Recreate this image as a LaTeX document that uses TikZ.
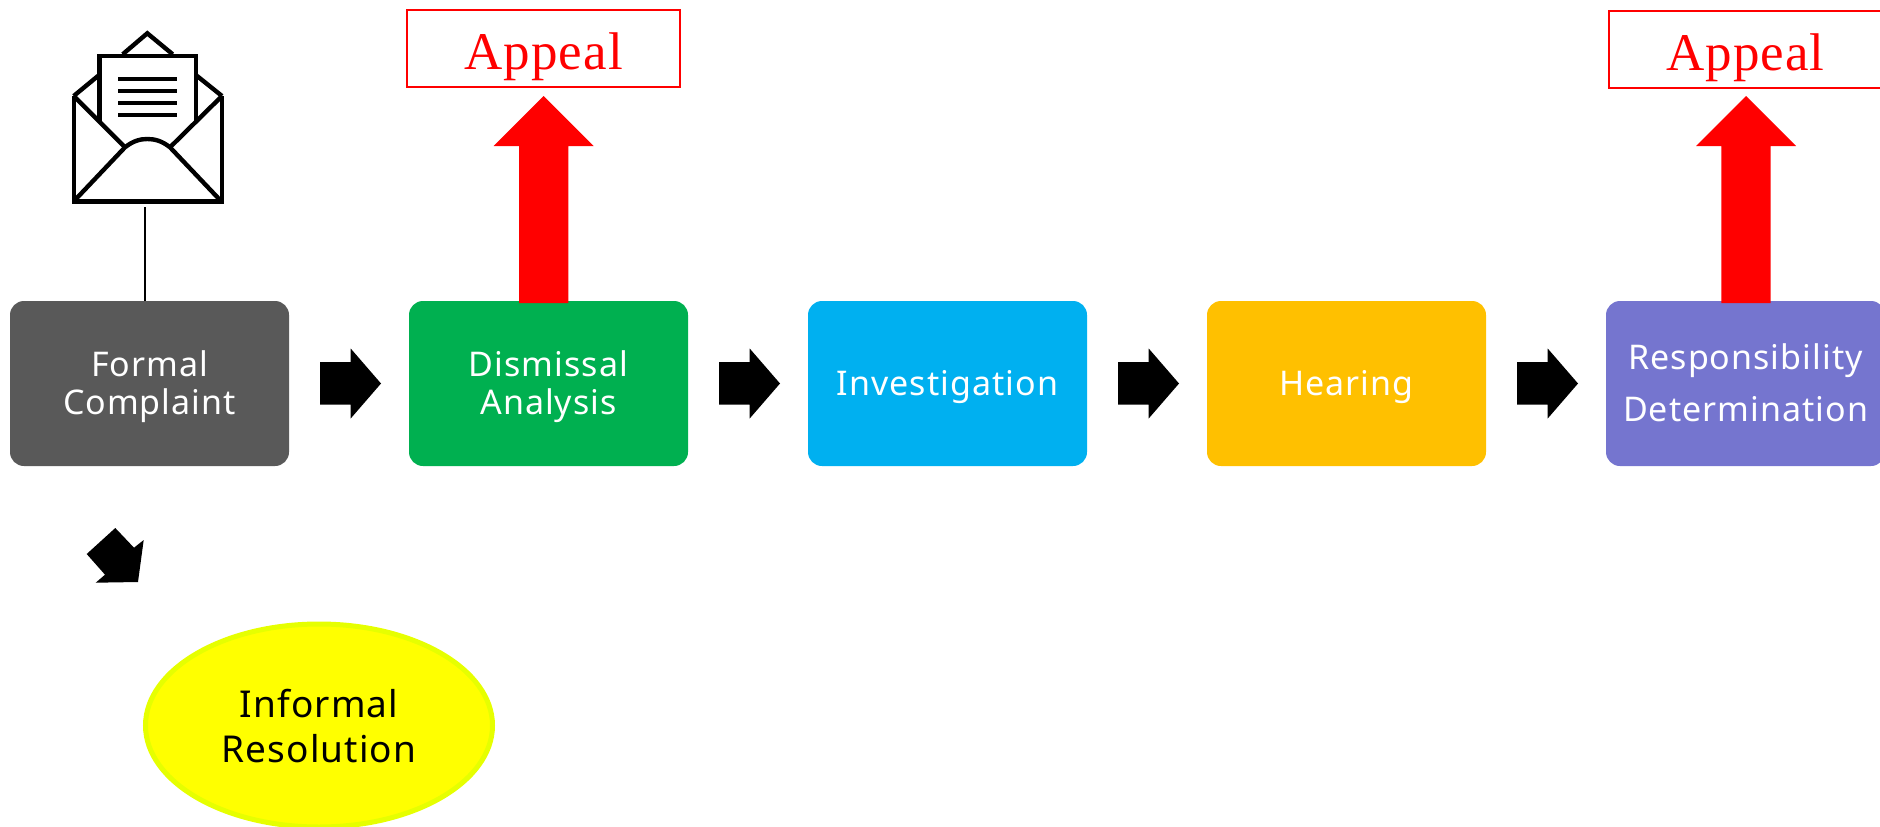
\documentclass[tikz,border=0pt]{standalone}
\usepackage{fontspec}
\setmainfont{Noto Sans}
\newfontfamily\boxfont[LetterSpace=3]{Noto Sans}
\newfontfamily\ovalfont[LetterSpace=3]{Noto Sans}
\newfontfamily\appealfont[LetterSpace=2]{Liberation Serif}
\usetikzlibrary{shapes.geometric}
\definecolor{cdark}{HTML}{595959}
\definecolor{cgreen}{HTML}{00B050}
\definecolor{cblue}{HTML}{00B0F0}
\definecolor{camber}{HTML}{FFC000}
\definecolor{cpurple}{HTML}{7575CF}
\definecolor{cyellow}{HTML}{FFFF00}
\definecolor{cyelline}{HTML}{E6FF00}
\newcommand{\placedtext}[2]{\raisebox{-#1}[0pt][0pt]{\begin{tabular}{@{}c@{}}#2\end{tabular}}}
\tikzset{
  stagebox/.style={rounded corners=14pt,minimum width=279pt,minimum height=165pt,inner sep=0pt,outer sep=0pt,text=white,font=\boxfont\fontsize{34}{38}\selectfont},
  appealbox/.style={draw=red,line width=2pt,text=red,inner sep=0pt,outer sep=0pt,text height=42.4pt,text depth=0pt,font=\appealfont\fontsize{53}{60}\selectfont},
  icon/.style={line width=4.4pt,line join=miter,draw=black,fill=none},
  blockarrow/.style={fill=black},
  redarrow/.style={fill=red}
}
\begin{document}
\begin{tikzpicture}[x=1pt,y=-1pt]
\useasboundingbox (0,0) rectangle (1880,827);
\clip (0,0) rectangle (1880,827);
% stages
\node[stagebox,fill=cdark] (formal) at (149.5,383.5) {\placedtext{10.2pt}{Formal\\Complaint}};
\node[stagebox,fill=cgreen] (dismissal) at (548.5,383.5) {\placedtext{10.6pt}{Dismissal\\Analysis}};
\node[stagebox,fill=cblue] (investigation) at (947.5,383.5) {\placedtext{10.5pt}{Investigation}};
\node[stagebox,fill=camber] (hearing) at (1346.5,383.5) {\placedtext{10.5pt}{Hearing}};
\node[stagebox,fill=cpurple,font=\boxfont\fontsize{34}{52}\selectfont] (responsibility) at (1745.5,383.5) {\placedtext{7.4pt}{Responsibility\\Determination}};
% appeal boxes
\node[appealbox,minimum width=272.5pt,minimum height=76.5pt] (appealA) at (543.7,48.7) {Appeal};
\node[appealbox,minimum width=280pt,minimum height=76.5pt] (appealB) at (1748.7,49.5) {\hspace*{-6.4pt}Appeal};
% informal
\node[ellipse,draw=cyelline,fill=cyellow,line width=5pt,inner sep=0pt,outer sep=0pt,minimum width=347pt,minimum height=203pt,text=black,font=\ovalfont\fontsize{37}{45}\selectfont] (informal) at (319,725.5) {\placedtext{11.5pt}{Informal\\Resolution}};
% red arrows
\foreach \n/\d in {dismissal/-4.8,responsibility/0.5}{
\begin{scope}[shift={(\n.north)},xshift=\d pt]
\fill[redarrow] (0,-205) -- (50,-155) -- (24.7,-155) -- (24.7,2) -- (-24.7,2) -- (-24.7,-155) -- (-50,-155) -- cycle;
\end{scope}}
% black arrows
\foreach \n in {formal,dismissal,investigation,hearing}{
\begin{scope}[shift={(\n.east)}]
\fill[blockarrow] (31,-21.3) -- (61.7,-21.3) -- (61.7,-35) -- (92,0) -- (61.7,35) -- (61.7,21) -- (31,21) -- cycle;
\end{scope}}
\coordinate (envbase) at (145,207);
\draw[line width=1.5pt] (envbase) -- (envbase |- formal.north);
% diagonal arrow
\fill[blockarrow] (115.3,528) -- (134,547.7) -- (143.7,540) -- (138,582) -- (95.7,582.7) -- (105,574.7) -- (86.7,554) -- cycle;
% envelope
\draw[icon] (73.7,96) -- (73.7,201.5) -- (222,201.5) -- (222,96);
\draw[icon] (73.7,96) -- (98.3,75.7);
\draw[icon] (222,96) -- (196.7,75.7);
\draw[icon] (122.7,54.3) -- (147.3,33.3) -- (172.7,54.3);
\draw[icon] (99.3,121.7) -- (99.3,56) -- (196,56) -- (196,121.7);
\draw[icon] (73.7,96) -- (125,147.3);
\draw[icon] (222,96) -- (170,147.3);
\draw[icon] (75,200) -- (125,147.3) .. controls (133,141) and (140,139) .. (147.3,139) .. controls (155,139) and (162,141) .. (170,147.3) -- (220,200);
\foreach \y in {79,90.7,102.7,115}{\draw[line width=4pt] (118,\y) -- (177,\y);}
\end{tikzpicture}
\end{document}
